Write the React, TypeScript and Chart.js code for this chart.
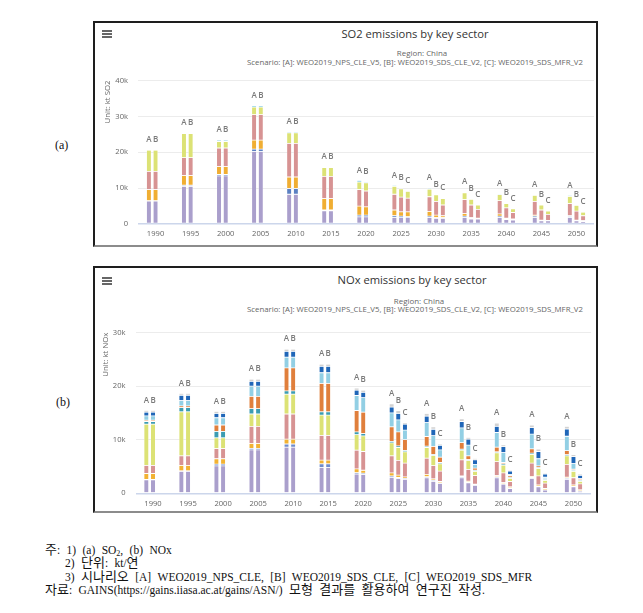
import React, { useEffect, useRef } from 'react';
import { Chart, registerables } from 'chart.js';
Chart.register(...registerables);

// ---------- categories & labels ----------
const YEARS = ['1990', '1995', '2000', '2005', '2010', '2015', '2020', '2025', '2030', '2035', '2040', '2045', '2050'];
const SCENARIOS = ['A', 'B', 'C'];
const Y_TICKS_SO2 = [0, 10, 20, 30, 40];
const Y_TICKS_NOX = [0, 10, 20, 30];

// ---------- SO2 (thousand kt) : rows = sectors (bottom -> top), columns = YEARS ----------
const SO2_SECTORS = ['Sector 1', 'Sector 2', 'Sector 3', 'Sector 4', 'Sector 5', 'Sector 6'];
const SO2_COLORS = ['#aa9fcc', '#5b80c2', '#f0ae33', '#d79393', '#dce275', '#8fd0e6'];
const SO2_A = [
  [6.4, 10.5, 13.4, 20.2, 8.3, 3.7, 2.0, 1.8, 1.8, 1.8, 1.8, 1.8, 1.8],
  [0.1, 0.3, 0.4, 0.7, 1.6, 0.2, 0.5, 0.5, 0.4, 0.4, 0.4, 0.4, 0.3],
  [3.1, 2.7, 2.2, 2.5, 3.2, 3.2, 2.5, 1.6, 1.3, 0.7, 0.6, 0.3, 0.2],
  [5.1, 5.0, 5.2, 7.1, 9.4, 6.2, 4.6, 4.4, 4.1, 3.9, 3.7, 3.8, 3.4],
  [5.9, 6.7, 1.8, 2.1, 2.9, 2.4, 2.1, 2.2, 2.1, 1.9, 1.7, 1.7, 2.0],
  [0.2, 0.2, 0.4, 0.4, 0.3, 0.2, 0.5, 0.3, 0.3, 0.2, 0.3, 0.2, 0.3],
];
const SO2_B = [
  [6.4, 10.5, 13.4, 20.2, 8.3, 3.7, 2.0, 1.75, 1.6, 1.4, 1.2, 0.9, 0.9],
  [0.1, 0.3, 0.4, 0.7, 1.6, 0.2, 0.5, 0.45, 0.2, 0.2, 0.2, 0.1, 0.1],
  [3.1, 2.7, 2.2, 2.5, 3.2, 3.2, 2.3, 1.2, 0.7, 0.2, 0.2, 0.1, 0.1],
  [5.1, 5.0, 5.2, 7.1, 9.4, 6.2, 4.4, 4.1, 3.8, 3.5, 2.9, 2.8, 2.5],
  [5.9, 6.7, 1.8, 2.1, 2.9, 2.4, 2.3, 2.3, 1.8, 1.6, 1.2, 1.4, 1.6],
  [0.2, 0.2, 0.4, 0.4, 0.3, 0.2, 0.3, 0.2, 0.1, 0.1, 0.1, 0.1, 0.1],
];
const SO2_C = [
  [null, null, null, null, null, null, null, 1.75, 1.6, 1.4, 1.1, 0.9, 0.7],
  [null, null, null, null, null, null, null, 0.3, 0.2, 0.1, 0.1, 0.05, 0.05],
  [null, null, null, null, null, null, null, 1.35, 0.5, 0.15, 0.2, 0.05, 0.2],
  [null, null, null, null, null, null, null, 3.8, 3.0, 2.45, 1.8, 1.7, 1.35],
  [null, null, null, null, null, null, null, 1.9, 1.8, 1.2, 1.0, 0.9, 1.0],
  [null, null, null, null, null, null, null, 0.1, 0.2, 0.1, 0.1, 0.1, 0.1],
];

// ---------- NOx (thousand kt) ----------
const NOX_SECTORS = ['Sector 1', 'Sector 2', 'Sector 3', 'Sector 4', 'Sector 5', 'Sector 6', 'Sector 7', 'Sector 8', 'Sector 9', 'Sector 10'];
const NOX_COLORS = ['#aa9fcc', '#6f8ccc', '#f2b233', '#d79393', '#dce275', '#3b9cb2', '#e07f3c', '#92cfe4', '#1f66b8', '#d2d2d2'];
const NOX_A = [
  [2.5, 4.1, 5.1, 8.1, 8.6, 4.8, 3.6, 3.0, 2.9, 2.9, 2.9, 2.75, 2.6],
  [0.1, 0.1, 0.35, 0.3, 0.6, 0.7, 0.25, 0.25, 0.2, 0.2, 0.2, 0.2, 0.2],
  [1.1, 1.0, 1.0, 0.9, 0.9, 0.7, 0.7, 0.55, 0.45, 0.15, 0.2, 0.2, 0.2],
  [1.5, 1.8, 1.9, 3.2, 4.7, 4.6, 3.5, 3.2, 3.0, 3.0, 2.6, 2.5, 2.4],
  [7.7, 8.2, 2.0, 2.3, 3.7, 3.8, 2.9, 2.4, 2.0, 1.8, 1.65, 1.6, 1.6],
  [0.5, 0.8, 1.2, 1.0, 0.6, 0.6, 0.5, 0.3, 0.25, 0.2, 0.2, 0.25, 0.2],
  [0.25, 0.3, 1.2, 2.3, 4.3, 5.3, 4.0, 2.7, 1.8, 1.2, 0.85, 0.8, 0.75],
  [0.8, 1.0, 1.35, 1.9, 2.0, 2.0, 2.8, 2.6, 2.6, 2.75, 2.75, 2.75, 2.7],
  [0.7, 1.0, 0.8, 0.9, 1.1, 1.2, 1.0, 1.1, 1.2, 1.2, 1.15, 1.2, 1.35],
  [0.35, 0.35, 0.4, 0.4, 0.4, 0.4, 0.4, 0.6, 0.5, 0.5, 0.6, 0.5, 0.5],
];
const NOX_B = [
  [2.5, 4.1, 5.1, 8.1, 8.6, 4.8, 3.5, 2.75, 2.25, 1.95, 1.7, 1.2, 1.2],
  [0.1, 0.1, 0.35, 0.3, 0.6, 0.7, 0.25, 0.2, 0.2, 0.1, 0.1, 0.1, 0.1],
  [1.1, 1.0, 1.0, 0.9, 0.9, 0.7, 0.55, 0.45, 0.25, 0.2, 0.2, 0.25, 0.25],
  [1.5, 1.8, 1.9, 3.2, 4.7, 4.6, 3.5, 2.75, 2.45, 2.2, 1.8, 1.7, 1.35],
  [7.7, 8.2, 2.0, 2.3, 3.7, 3.8, 2.9, 2.4, 1.9, 1.65, 1.45, 1.4, 1.2],
  [0.5, 0.8, 1.2, 1.0, 0.6, 0.6, 0.45, 0.3, 0.2, 0.2, 0.25, 0.2, 0.2],
  [0.25, 0.3, 1.2, 2.3, 4.3, 5.3, 4.0, 2.6, 1.5, 0.7, 0.25, 0.25, 0.2],
  [0.8, 1.0, 1.35, 1.9, 2.0, 2.0, 2.7, 2.25, 2.0, 2.0, 1.85, 1.35, 1.05],
  [0.7, 1.0, 0.8, 0.9, 1.1, 1.2, 1.0, 1.2, 1.2, 1.1, 1.1, 1.35, 1.3],
  [0.35, 0.35, 0.4, 0.4, 0.4, 0.4, 0.4, 0.55, 0.45, 0.35, 0.35, 0.45, 0.35],
];
const NOX_C = [
  [null, null, null, null, null, null, null, 2.6, 1.85, 1.5, 0.9, 0.6, 0.4],
  [null, null, null, null, null, null, null, 0.2, 0.1, 0.05, 0.1, 0.05, 0.05],
  [null, null, null, null, null, null, null, 0.25, 0.25, 0.15, 0.2, 0.25, 0.2],
  [null, null, null, null, null, null, null, 2.6, 1.95, 1.6, 1.0, 1.0, 1.1],
  [null, null, null, null, null, null, null, 2.1, 1.35, 0.8, 0.6, 0.5, 0.5],
  [null, null, null, null, null, null, null, 0.25, 0.25, 0.2, 0.2, 0.2, 0.2],
  [null, null, null, null, null, null, null, 2.0, 1.0, 0.4, 0.3, 0.1, 0.2],
  [null, null, null, null, null, null, null, 1.8, 1.35, 0.7, 0.25, 0.3, 0.1],
  [null, null, null, null, null, null, null, 1.1, 0.85, 0.85, 0.6, 0.6, 0.6],
  [null, null, null, null, null, null, null, 0.3, 0.25, 0.25, 0.2, 0.2, 0.25],
];

const FONT = '"Open Sans", "DejaVu Sans", sans-serif';

const stackLabelPlugin = {
  id: 'stackLabels',
  afterDatasetsDraw(chart: any) {
    const tops: Record<string, { x: number; y: number; s: string }> = {};
    chart.data.datasets.forEach((ds: any, di: number) => {
      const meta = chart.getDatasetMeta(di);
      meta.data.forEach((el: any, i: number) => {
        const v = ds.data[i];
        if (v === null || v === undefined) return;
        const key = ds.stack + '|' + i;
        const y = Math.min(el.y, el.base);
        if (!tops[key] || y < tops[key].y) tops[key] = { x: el.x, y, s: ds.stack };
      });
    });
    const ctx = chart.ctx;
    ctx.save();
    ctx.font = '600 8px ' + FONT;
    ctx.fillStyle = '#7a7a7a';
    ctx.textAlign = 'center';
    ctx.textBaseline = 'middle';
    Object.values(tops).forEach((t) => ctx.fillText(t.s, t.x, t.y - 10));
    ctx.restore();
  },
};

type ChartProps = {
  sets: (number | null)[][][];
  names: string[];
  colors: string[];
  yTicks: number[];
  yTitle: string;
  left: number;
  top: number;
  width: number;
  height: number;
  pad: { left: number; right: number; top: number; bottom: number };
  yAxisWidth: number;
  xAxisHeight: number;
  xPad: number;
  yTitlePad: number;
};

function StackedChart(p: ChartProps) {
  const ref = useRef<HTMLCanvasElement>(null);
  useEffect(() => {
    const datasets: any[] = [];
    SCENARIOS.forEach((sc, si) => {
      p.sets[si].forEach((vals, k) => {
        datasets.push({
          label: `${p.names[k]} [${sc}]`,
          data: vals,
          stack: sc,
          backgroundColor: p.colors[k],
          borderColor: '#ffffff',
          borderWidth: 0.4,
          borderSkipped: false,
          categoryPercentage: 0.57,
          barPercentage: 0.72,
        });
      });
    });
    const yMax = p.yTicks[p.yTicks.length - 1];
    const chart = new Chart(ref.current as HTMLCanvasElement, {
      type: 'bar',
      data: { labels: YEARS, datasets },
      options: {
        animation: false,
        responsive: false,
        maintainAspectRatio: false,
        layout: { padding: p.pad },
        plugins: { legend: { display: false }, tooltip: { enabled: false }, title: { display: false } },
        scales: {
          x: {
            stacked: true,
            grid: { display: false, drawTicks: false },
            border: { display: false },
            ticks: { padding: p.xPad, autoSkip: false, maxRotation: 0, color: '#666', font: { family: FONT, size: 7.6 } },
            afterFit: (s: any) => { s.height = p.xAxisHeight; },
          },
          y: {
            stacked: true,
            min: 0,
            max: yMax,
            afterBuildTicks: (s: any) => { s.ticks = p.yTicks.map((v) => ({ value: v })); },
            ticks: {
              padding: 10,
              color: '#666',
              font: { family: FONT, size: 7.6 },
              callback: (v: any) => (Number(v) === 0 ? '0' : `${v}k`),
            },
            grid: {
              drawTicks: false,
              color: (c: any) => (c.tick && c.tick.value === 0 ? '#ccd6eb' : '#ececec'),
              lineWidth: (c: any) => (c.tick && c.tick.value === 0 ? 1.5 : 1),
            },
            border: { display: false },
            title: {
              display: true,
              text: p.yTitle,
              align: 'end',
              color: '#666',
              font: { family: FONT, size: 7.8 },
              padding: { top: p.yTitlePad, bottom: 0 },
            },
            afterFit: (s: any) => { s.width = p.yAxisWidth; },
          },
        },
      } as any,
      plugins: [stackLabelPlugin],
    });
    return () => chart.destroy();
  }, []);
  return (
    <canvas
      ref={ref}
      width={p.width}
      height={p.height}
      style={{ position: 'absolute', left: p.left, top: p.top, width: p.width, height: p.height }}
    />
  );
}

function Hamburger({ x, y }: { x: number; y: number }) {
  return (
    <div style={{ position: 'absolute', left: x, top: y, width: 10, height: 8 }}>
      {[0, 3, 6].map((d) => (
        <div key={d} style={{ position: 'absolute', left: 0, top: d, width: 10, height: 1.6, background: '#666' }} />
      ))}
    </div>
  );
}

function Centered({ cx, cy, size, color, text, h }: { cx: number; cy: number; size: number; color: string; text: string; h: number }) {
  return (
    <div
      style={{
        position: 'absolute', left: cx - 250, top: cy - h / 2, width: 500, height: h, lineHeight: `${h}px`,
        textAlign: 'center', fontFamily: FONT, fontSize: size, color, whiteSpace: 'nowrap',
      }}
    >
      {text}
    </div>
  );
}

function K({ children }: { children: React.ReactNode }) {
  return <span style={{ fontSize: 13 }}>{children}</span>;
}

const SCEN_TEXT = 'Scenario: [A]: WEO2019_NPS_CLE_V5, [B]: WEO2019_SDS_CLE_V2, [C]: WEO2019_SDS_MFR_V2';
const NOTE_FONT = '"Liberation Serif", "Noto Sans CJK KR", serif';

export default function App() {
  const noteStyle = (left: number, cy: number): React.CSSProperties => ({
    position: 'absolute', left, top: cy - 7, height: 14, lineHeight: '14px', fontFamily: NOTE_FONT,
    fontSize: 11.5, color: '#111', whiteSpace: 'nowrap', wordSpacing: '3.5px',
  });
  return (
    <div style={{ position: 'absolute', left: 0, top: 0, width: 643, height: 613, background: '#fff', overflow: 'hidden' }}>
      {/* panel (a) */}
      <div style={{ position: 'absolute', left: 93, top: 21, width: 505, height: 226, boxSizing: 'border-box', borderTop: '2px solid #1e1e1e', borderLeft: '2px solid #1e1e1e', borderRight: '2px solid #1e1e1e', borderBottom: '2px solid #8c8c8c' }} />
      <Hamburger x={102} y={30} />
      <Centered cx={415} cy={34} size={11.2} color="#333" text="SO2 emissions by key sector" h={14} />
      <Centered cx={422} cy={53} size={7.9} color="#666" text="Region: China" h={10} />
      <Centered cx={415} cy={62} size={7.8} color="#666" text={SCEN_TEXT} h={10} />
      <StackedChart
        sets={[SO2_A, SO2_B, SO2_C]} names={SO2_SECTORS} colors={SO2_COLORS} yTicks={Y_TICKS_SO2} yTitle="Unit: kt SO2"
        left={95} top={66} width={502} height={178}
        pad={{ left: 0, right: 3, top: 11, bottom: 0 }} yAxisWidth={43} xAxisHeight={20} xPad={5.5} yTitlePad={8}
      />
      <div style={{ position: 'absolute', left: 55, top: 138, fontFamily: NOTE_FONT, fontSize: 12, lineHeight: '14px', color: '#111' }}>(a)</div>

      {/* panel (b) */}
      <div style={{ position: 'absolute', left: 93, top: 266, width: 505, height: 247, boxSizing: 'border-box', borderTop: '2px solid #1e1e1e', borderLeft: '2px solid #1e1e1e', borderRight: '2px solid #1e1e1e', borderBottom: '2px solid #8c8c8c' }} />
      <Hamburger x={102} y={277} />
      <Centered cx={412} cy={280} size={11.2} color="#333" text="NOx emissions by key sector" h={14} />
      <Centered cx={419} cy={301} size={7.9} color="#666" text="Region: China" h={10} />
      <Centered cx={415} cy={309} size={7.8} color="#666" text={SCEN_TEXT} h={10} />
      <StackedChart
        sets={[NOX_A, NOX_B, NOX_C]} names={NOX_SECTORS} colors={NOX_COLORS} yTicks={Y_TICKS_NOX} yTitle="Unit: kt NOx"
        left={95} top={318} width={502} height={193}
        pad={{ left: 0, right: 6, top: 12, bottom: 0 }} yAxisWidth={40.5} xAxisHeight={17.7} xPad={6} yTitlePad={6}
      />
      <div style={{ position: 'absolute', left: 56, top: 395, fontFamily: NOTE_FONT, fontSize: 12, lineHeight: '14px', color: '#111' }}>(b)</div>

      {/* notes */}
      <div style={noteStyle(45, 550)}><K>주</K>: 1) (a) SO<span style={{ fontSize: 8, verticalAlign: -2 }}>2</span>, (b) NOx</div>
      <div style={noteStyle(65, 563.3)}>2) <K>단위</K>: kt/<K>연</K></div>
      <div style={noteStyle(65, 576.7)}>3) <K>시나리오</K> [A] WEO2019_NPS_CLE, [B] WEO2019_SDS_CLE, [C] WEO2019_SDS_MFR</div>
      <div style={noteStyle(45, 590)}><K>자료</K>: GAINS(https://gains.iiasa.ac.at/gains/ASN/) <K>모형</K> <K>결과를</K> <K>활용하여</K> <K>연구진</K> <K>작성</K>.</div>
    </div>
  );
}
